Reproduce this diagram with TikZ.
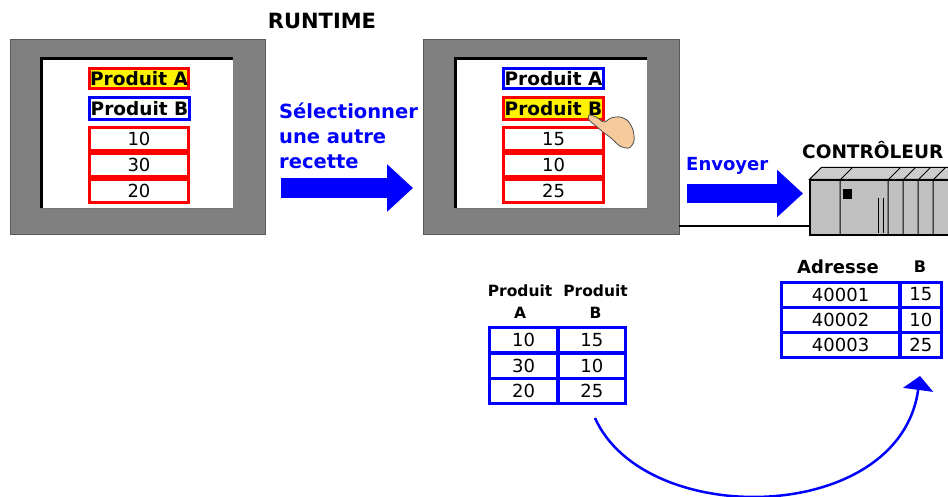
\documentclass[tikz,border=0pt]{standalone}
\usepackage{fontspec}
\setmainfont{DejaVu Sans}
\usetikzlibrary{arrows.meta}

\definecolor{framegray}{RGB}{128,128,128}
\definecolor{plcgray}{RGB}{192,192,192}
\definecolor{plctop}{RGB}{205,205,205}
\definecolor{skin}{RGB}{247,202,158}

\tikzset{
  frame/.style={draw=black!65, fill=framegray, line width=1pt, minimum width=255pt, minimum height=195pt, inner sep=0pt},
  screen/.style={fill=white, minimum width=191pt, minimum height=149pt, inner sep=0pt},
  namebox/.style={line width=3pt, minimum width=99.5pt, inner sep=0pt, font=\bfseries\fontsize{18.5}{20}\selectfont},
  valbox/.style={draw=red, line width=3pt, fill=white, minimum width=99.5pt, minimum height=23.5pt, inner sep=0pt, font=\fontsize{18}{20}\selectfont},
  cell/.style={draw=blue, line width=3pt, minimum height=25pt, inner sep=0pt, font=\fontsize{18}{20}\selectfont},
  head/.style={inner sep=0pt, align=center, font=\bfseries\fontsize{15.5}{22}\selectfont},
  bluetext/.style={text=blue, inner sep=0pt, align=left, font=\bfseries\fontsize{19.5}{25}\selectfont},
  title/.style={inner sep=0pt, font=\bfseries\fontsize{21}{24}\selectfont},
  fatarrow/.style={blue, line width=#1, -{Triangle[length=26pt, width=46pt]}},
}

\begin{document}
\begin{tikzpicture}[x=1pt, y=-1pt]
\useasboundingbox (0,0) rectangle (948,497);

% left panel: recipe A shown
\node[frame] (mon1) at (137.5,137.5) {};
\node[screen] (scr1) at (137.5,133.5) {};
\draw[line width=3pt] (scr1.south west) -- (scr1.north west) -- (scr1.north east);
\draw[black!55, line width=1.2pt] (scr1.south west) -- (scr1.south east);
\node[namebox, draw=red, fill=yellow, minimum height=20pt] (pa1) at (139,78.5) {Produit A};
\node[namebox, draw=blue, fill=white, minimum height=22pt] (pb1) at (139.5,108.5) {Produit B};
\node[valbox] (v11) at (139,139) {10};
\node[valbox] (v12) at (139,165) {30};
\node[valbox] (v13) at (139,191) {20};

\node[title] (runtime) at (322,21) {RUNTIME};

\node[bluetext, anchor=west] (select) at (279,136) {Sélectionner\\une autre\\recette};
\coordinate (a1s) at (281,188);
\coordinate (a1e) at (413,188);
\draw[fatarrow=20pt] (a1s) -- (a1e);

% right panel: recipe B picked
\node[frame, minimum width=256pt] (mon2) at (551,137.5) {};
\node[screen] (scr2) at (551.5,133.5) {};
\draw[line width=3pt] (scr2.south west) -- (scr2.north west) -- (scr2.north east);
\draw[black!55, line width=1.2pt] (scr2.south west) -- (scr2.south east);
\node[namebox, draw=blue, fill=white, minimum height=20pt] (pa2) at (553.5,78.5) {Produit A};
\node[namebox, draw=red, fill=yellow, minimum height=22pt] (pb2) at (553.5,108.5) {Produit B};
\node[valbox] (v21) at (553.5,139) {15};
\node[valbox] (v22) at (553.5,165) {10};
\node[valbox] (v23) at (553.5,191) {25};

% pointing hand
\fill[skin, draw=black!70, line width=0.8pt] plot[smooth cycle] coordinates {
  (589,115) (596,117) (604,122) (611,118) (620,117) (628,121) (633,130)
  (634,141) (629,148) (620,146) (611,138) (603,132) (596,126) (589,120)};

% controller
\node[inner sep=0pt, draw, line width=1.2pt, fill=plcgray, minimum width=150pt, minimum height=55pt] (plc) at (885,207.5) {};
\filldraw[fill=plctop, line width=1pt] (plc.north west) -- ++(12,-12) -- ++(150,0) -- (plc.north east) -- cycle;
\draw[line width=1pt] (840,180) -- (840,235) (840,180) -- (852,168);
\draw[line width=1pt] (888,180) -- (888,235) (888,180) -- (900,168);
\draw[line width=1pt] (903,180) -- (903,235) (903,180) -- (915,168);
\draw[line width=1pt] (918,180) -- (918,235) (918,180) -- (930,168);
\draw[line width=1pt] (933,180) -- (933,235) (933,180) -- (945,168);
\fill (843,189) rectangle (852,199);
\draw[line width=1pt] (878,198) -- (878,233) (883,198) -- (883,233);
\node[title, anchor=west, font=\bfseries\fontsize{18.5}{22}\selectfont] (ctrl) at (802,150) {CONTRÔLEUR};

% cable and send arrow
\coordinate (cab) at (679,226);
\draw[line width=2pt] (cab) -- (cab -| plc.west);
\node[bluetext, anchor=west, font=\bfseries\fontsize{18}{20}\selectfont] (send) at (686,166) {Envoyer};
\coordinate (a2s) at (687,193.5);
\coordinate (a2e) at (803,193.5);
\draw[fatarrow=19pt] (a2s) -- (a2e);

% recipe table
\node[head] (ha) at (520,302) {Produit\\A};
\node[head] (hb) at (595.5,302) {Produit\\B};
\node[cell, minimum width=68.5pt] (ta1) at (523.6,340) {10};
\node[cell, minimum width=68.5pt] (ta2) at (523.6,365.5) {30};
\node[cell, minimum width=68.5pt] (ta3) at (523.6,391) {20};
\node[cell, minimum width=67.5pt] (tb1) at (591.9,340) {15};
\node[cell, minimum width=67.5pt] (tb2) at (591.9,365.5) {10};
\node[cell, minimum width=67.5pt] (tb3) at (591.9,391) {25};

% controller memory
\node[head, font=\bfseries\fontsize{18}{20}\selectfont] (hadr) at (838,267) {Adresse};
\node[head, font=\bfseries\fontsize{16}{20}\selectfont] (hval) at (920,267) {B};
\node[cell, minimum width=118.5pt] (m1) at (840.6,294.5) {40001};
\node[cell, minimum width=118.5pt] (m2) at (840.6,319.5) {40002};
\node[cell, minimum width=118.5pt] (m3) at (840.6,344.5) {40003};
\node[cell, minimum width=41.5pt] (mb1) at (920.9,294.5) {15};
\node[cell, minimum width=41.5pt] (mb2) at (920.9,319.5) {10};
\node[cell, minimum width=41.5pt] (mb3) at (920.9,344.5) {25};

\coordinate (cstart) at (595,418);
\coordinate (cend) at (920,376);
\draw[blue, line width=2.5pt, -{Triangle[length=14pt, width=30pt]}] (cstart) .. controls (645,530) and (900,525) .. (cend);
\end{tikzpicture}
\end{document}
